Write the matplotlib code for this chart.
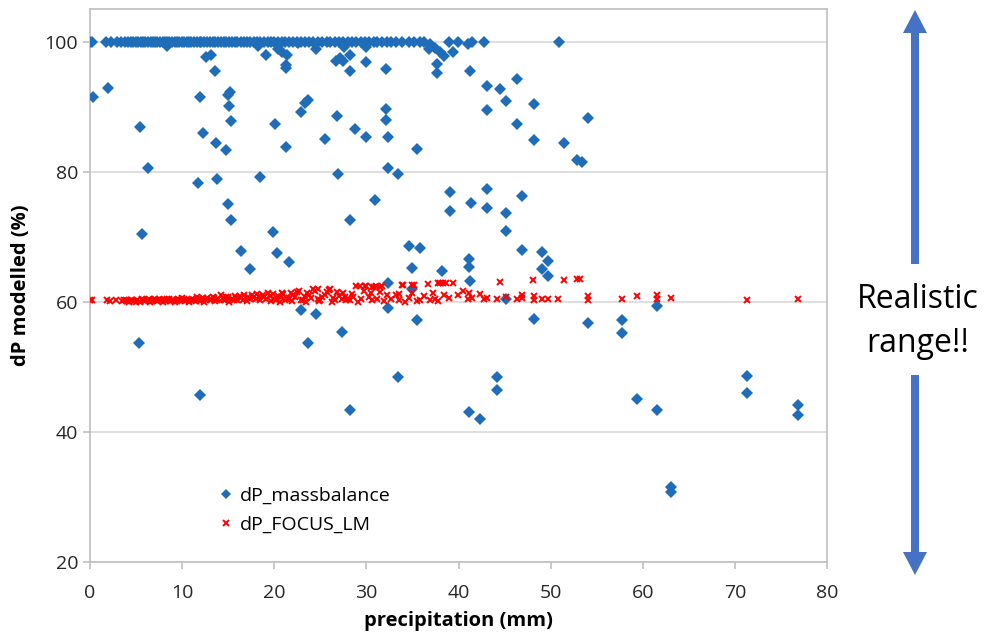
import matplotlib
matplotlib.use('Agg')
import matplotlib.pyplot as plt

plt.rcParams['font.family'] = ['Open Sans', 'DejaVu Sans']

# dP_massbalance: precipitation (mm) and modelled dP (%)
mb_x = [0.0, 0.2, 1.7, 2.3, 2.9, 3.4, 3.8, 4.1, 4.4, 4.7, 5.0, 5.2, 5.5, 5.8, 6.0, 6.3, 6.6, 6.8,
        7.1, 7.3, 7.6, 7.9, 8.1, 8.4, 8.6, 8.9, 9.2, 9.4, 9.7, 10.0, 10.2, 10.5, 10.8, 11.0, 11.3,
        11.6, 11.9, 12.1, 12.4, 12.7, 13.0, 13.3, 13.6, 13.9, 14.2, 14.5, 14.8, 15.1, 15.4, 15.7,
        16.0, 16.4, 16.7, 17.0, 17.4, 17.8, 18.1, 18.5, 18.9, 19.3, 19.6, 20.0, 20.4, 20.8, 21.2,
        21.6, 22.0, 22.5, 22.9, 23.3, 23.8, 24.2, 24.7, 25.2, 25.7, 26.1, 26.6, 27.0, 27.5, 28.0,
        28.4, 28.9, 29.4, 29.8, 30.3, 30.8, 31.2, 31.7, 32.2, 32.7, 33.2, 33.9, 34.6, 35.2, 35.8,
        36.3, 39.0, 39.9, 41.5, 42.8, 50.9,
        0.3, 1.9, 5.4, 6.3, 5.6, 5.35, 8.4, 11.7, 11.9, 12.3, 12.6, 13.1, 13.6, 13.7, 13.75, 11.9,
        14.8, 14.95, 15.0, 15.2, 15.05, 15.3, 15.3, 16.4, 17.4, 18.2, 18.5, 19.1, 19.9, 20.1, 20.3,
        20.4, 20.8, 21.3, 21.3, 21.4, 21.3, 21.6, 22.6, 22.9, 22.9, 23.3, 23.7, 23.7, 24.5, 24.5,
        25.5, 26.7, 26.8, 26.9, 27.1, 27.3, 27.5, 27.6, 28.2, 28.2, 28.2, 28.2, 28.8, 30.0, 30.0,
        30.0, 30.9, 32.1, 32.1, 32.1, 32.3, 32.3, 32.4, 32.4, 33.4, 33.4, 34.6, 35.0, 35.0, 35.5,
        35.5, 35.8, 36.8, 36.9, 37.5, 37.7, 37.7, 38.0, 38.4, 38.2, 39.4, 39.1, 39.1, 41.0, 41.1,
        41.1, 41.3, 41.3, 41.1, 41.4, 42.3, 43.1, 43.1, 43.1, 43.1, 44.2, 44.2, 44.5, 45.2, 45.2,
        45.2, 45.2, 46.3, 46.3, 46.9, 46.9, 48.2, 48.2, 48.2, 49.1, 49.7, 49.1, 49.7, 51.4, 52.9,
        53.4, 54.1, 54.1, 57.7, 57.7, 59.4, 61.5, 61.5, 63.1, 63.1, 71.3, 71.3, 76.9, 76.9]
mb_y = [100, 100, 100, 100, 100, 100, 100, 100, 100, 100, 100, 100, 100, 100, 100, 100, 100, 100,
        100, 100, 100, 100, 100, 100, 100, 100, 100, 100, 100, 100, 100, 100, 100, 100, 100,
        100, 100, 100, 100, 100, 100, 100, 100, 100, 100, 100, 100, 100, 100, 100,
        100, 100, 100, 100, 100, 100, 100, 100, 100, 100, 100, 100, 100, 100, 100,
        100, 100, 100, 100, 100, 100, 100, 100, 100, 100, 100, 100, 100, 100, 100,
        100, 100, 100, 100, 100, 100, 100, 100, 100, 100, 100, 100, 100, 100, 100,
        100, 100, 100, 100, 100, 100,
        91.4, 92.9, 86.8, 80.6, 70.4, 53.6, 99.3, 78.2, 91.4, 86.0, 97.6, 97.9, 95.4, 84.4, 78.9, 45.7,
        83.3, 75.1, 91.8, 92.2, 90.1, 87.8, 72.6, 67.8, 65.0, 99.3, 79.2, 97.9, 70.7, 87.4, 67.5,
        98.9, 98.4, 96.4, 96.0, 98.0, 83.8, 66.1, 99.8, 89.2, 58.7, 90.5, 91.0, 53.6, 98.8, 58.1,
        85.0, 97.0, 88.6, 79.6, 97.5, 55.4, 97.0, 99.2, 98.0, 95.4, 72.6, 43.4, 86.6, 96.9, 99.2,
        85.3, 75.7, 95.8, 89.7, 88.0, 85.3, 80.5, 62.9, 59.1, 79.7, 48.4, 68.5, 65.2, 62.0, 83.5,
        57.2, 68.2, 98.8, 99.6, 99.0, 96.5, 95.2, 98.4, 97.8, 64.8, 98.4, 76.9, 73.9, 99.6, 66.5,
        65.4, 63.2, 95.4, 43.1, 75.2, 42.0, 93.2, 89.5, 77.3, 74.4, 48.4, 46.5, 92.7, 90.8, 73.7,
        70.9, 60.5, 94.2, 87.3, 76.2, 67.9, 90.4, 84.8, 57.3, 67.6, 66.3, 65.1, 63.9, 84.4, 81.8,
        81.5, 88.3, 56.8, 57.2, 55.2, 45.1, 59.3, 43.3, 31.6, 30.8, 48.6, 46.0, 44.2, 42.6]

# dP_FOCUS_LM
lm_x = [0.0, 0.2, 1.8, 2.2, 2.8, 3.5, 3.9, 4.2, 4.5, 4.8, 5.1, 5.4, 5.7, 6.0, 6.3, 6.5, 6.8, 7.1,
        7.3, 7.6, 7.9, 8.1, 8.4, 8.7, 8.9, 9.2, 9.5, 9.7, 10.0, 10.3, 10.5, 10.8, 11.1, 11.3, 11.6,
        11.9, 12.1, 12.4, 12.7, 13.0, 13.3, 13.6, 13.9, 14.2, 14.5, 14.8, 15.1, 15.4, 15.7, 16.0,
        16.4, 16.7, 17.0, 17.4, 17.8, 18.1, 18.5, 18.9, 19.3, 19.6, 20.0, 20.4, 20.8, 21.2, 21.6,
        22.0, 22.5, 22.9, 23.3, 23.8, 24.2, 24.7, 25.2, 25.7, 26.1, 26.6, 27.0, 27.5, 28.0, 28.4,
        28.9, 29.4, 29.8, 30.3, 30.8, 31.2, 31.7, 32.2, 32.7, 33.2, 33.9, 34.6, 35.2, 35.8, 36.3,
        36.7, 37.5, 38.0, 38.6, 38.4, 39.0, 39.4, 39.9, 41.0, 41.1, 41.5, 42.3, 42.8, 43.1, 44.2,
        44.5, 45.2, 46.3, 46.9, 46.9, 48.2, 48.1, 48.2, 49.1, 49.7, 50.8, 51.4, 52.9, 53.2, 54.1,
        54.1, 57.7, 59.4, 61.5, 61.5, 63.1, 71.3, 76.9,
        20.6, 21.9, 23.5, 24.9, 26.3, 27.8, 29.1, 30.6, 31.9, 33.5, 34.2, 35.5, 36.9, 37.8,
        29.7, 30.5, 31.5, 33.5, 35.0, 37.2, 40.5,
        3.7, 4.0, 4.6, 5.0, 5.6, 5.9, 6.4, 6.7, 7.0, 7.5, 7.8, 8.3, 8.6, 9.0, 9.4, 9.9, 10.2,
        10.7, 11.0, 11.5, 11.8, 12.3, 12.6, 13.1, 13.5, 13.8, 14.4, 14.7, 15.0, 15.6, 15.9, 16.3,
        16.6, 17.2, 17.6, 18.0, 18.3, 18.8, 19.1, 19.5, 19.9, 20.2, 20.7, 21.0, 21.4, 21.8, 22.3,
        22.7, 23.1, 23.6, 24.0, 24.4, 24.8, 25.0, 25.5, 25.9, 26.4, 26.8, 27.3, 27.7, 28.2, 28.6,
        29.3, 30.0, 30.6, 31.0, 31.5, 34.0, 34.9, 37.8, 38.3]
lm_y = [60.2, 60.3, 60.2, 60.1, 60.2, 60.1, 60.2, 60.0, 60.2, 60.1, 60.3, 60.0, 60.2, 60.1, 60.3,
        60.0, 60.2, 60.4, 60.1, 60.3, 60.0, 60.2, 60.5, 60.1, 60.3, 60.0, 60.4, 60.2, 60.6, 60.1,
        60.3, 60.0, 60.5, 60.2, 60.7, 60.1, 60.4, 60.0, 60.6, 60.3, 60.8, 60.1, 60.5, 61.0, 60.2,
        60.7, 60.0, 60.4, 60.9, 60.2, 60.6, 61.1, 60.1, 60.5, 60.8, 61.2, 60.3, 60.7, 61.3, 60.1,
        60.5, 60.9, 61.4, 60.2, 60.6, 61.0, 61.5, 60.3, 60.7, 61.1, 61.9, 60.4, 60.8, 61.5, 62.0,
        60.3, 60.9, 61.3, 60.5, 61.2, 62.4, 60.4, 62.4, 60.8, 62.3, 60.5, 62.5, 61.0, 60.4, 61.1,
        62.6, 60.6, 62.6, 60.3, 60.9, 62.8, 60.5, 62.9, 62.9, 61.0, 60.6, 62.9, 61.1, 60.4, 61.4,
        60.6, 61.2, 60.4, 60.6, 60.5, 63.1, 60.8, 60.4, 61.1, 60.6, 60.9, 63.4, 60.3, 60.5, 60.5,
        60.5, 63.4, 63.5, 63.5, 60.9, 60.3, 60.4, 60.9, 61.0, 60.5, 60.6, 60.2, 60.4,
        60.0, 60.1, 60.0, 60.1, 60.0, 60.2, 60.0, 60.2, 60.1, 60.2, 60.0, 60.1, 60.2, 60.1,
        61.6, 61.4, 61.5, 61.2, 61.3, 61.4, 61.6,
        60.3, 60.1, 60.3, 60.0, 60.4, 60.2, 60.4, 60.1, 60.2, 60.5, 60.2, 60.1, 60.4, 60.2, 60.1,
        60.3, 60.5, 60.2, 60.3, 60.1, 60.4, 60.6, 60.2, 60.4, 60.6, 60.2, 60.6, 60.3, 60.8, 60.3,
        60.6, 60.9, 60.3, 60.7, 61.0, 60.4, 60.9, 61.1, 60.5, 60.9, 61.2, 60.3, 60.8, 61.2, 60.4,
        61.3, 60.8, 61.6, 60.2, 61.4, 60.6, 61.6, 61.9, 60.3, 61.0, 61.8, 60.6, 61.5, 60.4, 60.7,
        60.3, 60.8, 62.4, 62.4, 62.3, 62.4, 62.3, 62.6, 62.6, 62.9, 62.9]

blue = '#1F6CB8'
grey = '#BFBFBF'

fig = plt.figure(figsize=(9.84, 6.34), dpi=100)
ax = fig.add_axes([90 / 984, 1 - 562 / 634, (827 - 90) / 984, (562 - 9) / 634])

ax.plot(mb_x, mb_y, linestyle='none', marker='D', ms=6, color=blue,
        markeredgewidth=0, label='dP_massbalance', zorder=3)
ax.plot(lm_x, lm_y, linestyle='none', marker='x', ms=5, color='red',
        markeredgewidth=1.4, label='dP_FOCUS_LM', zorder=4)

ax.set_xlim(0, 80)
ax.set_ylim(20, 105)
ax.set_xticks(range(0, 81, 10))
ax.set_yticks(range(20, 101, 20))
ax.yaxis.grid(True, color='#D9D9D9', lw=1.2)
ax.set_axisbelow(True)
for s in ax.spines.values():
    s.set_color(grey)
    s.set_linewidth(1.2)
ax.tick_params(colors=grey, labelcolor='#262626', labelsize=14, length=5, width=1.2)
ax.tick_params(axis='x', pad=11)
ax.set_xlabel('precipitation (mm)', fontsize=14.5, fontweight='bold', labelpad=6)
ax.set_ylabel('dP modelled (%)', fontsize=14.5, fontweight='bold', labelpad=10)

leg = ax.legend(loc='upper left', bbox_to_anchor=(0.15, 0.168), frameon=False,
                fontsize=14, handlelength=0.8, handletextpad=0.3, labelspacing=0.6,
                markerscale=0.8)

# overlay in pixel coordinates for the annotation arrows
ov = fig.add_axes([0, 0, 1, 1], zorder=5)
ov.set_xlim(0, 984)
ov.set_ylim(634, 0)
ov.axis('off')
arrow_col = '#4472C4'
ov.arrow(915, 264, 0, -254, width=8, head_width=24, head_length=23,
         length_includes_head=True, color=arrow_col, lw=0)
ov.arrow(915, 375, 0, 200, width=8, head_width=24, head_length=23,
         length_includes_head=True, color=arrow_col, lw=0)
ov.text(918, 300, 'Realistic', fontsize=23, ha='center', va='center', color='black')
ov.text(918, 343, 'range!!', fontsize=23, ha='center', va='center', color='black')

fig.savefig('out.png', dpi=100)
